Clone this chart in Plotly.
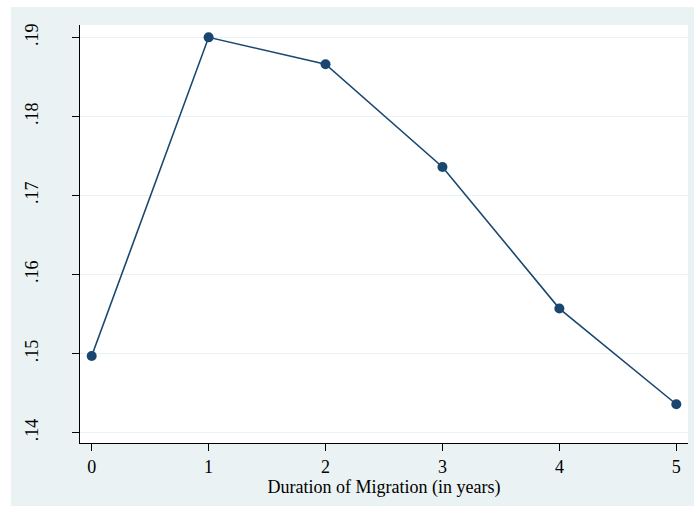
import plotly.graph_objects as go

years = [0, 1, 2, 3, 4, 5]
share = [0.1497, 0.1900, 0.1866, 0.1736, 0.1557, 0.1436]
ytick_vals = [0.14, 0.15, 0.16, 0.17, 0.18, 0.19]
ytick_text = [".14", ".15", ".16", ".17", ".18", ".19"]
xtick_vals = [0, 1, 2, 3, 4, 5]
xlabel = "Duration of Migration (in years)"

BG = "#EAF2F3"
NAVY = "#1a476f"
FONT = "Liberation Serif, Times New Roman, serif"

fig = go.Figure(go.Scatter(
    x=years, y=share, mode="lines+markers",
    line=dict(color=NAVY, width=1.6),
    marker=dict(color=NAVY, size=10),
    showlegend=False,
))

fig.update_layout(
    width=694, height=506,
    margin=dict(l=80, r=6, t=25, b=63, pad=0, autoexpand=False),
    paper_bgcolor=BG, plot_bgcolor="white",
    font=dict(family=FONT, color="black", size=16),
    xaxis=dict(
        range=[-0.1, 5.1], tickvals=xtick_vals, ticks="outside", ticklen=7,
        tickcolor="black", tickwidth=1, showline=True, linecolor="black", linewidth=1,
        showgrid=False, zeroline=False, tickfont=dict(size=18), automargin=False,
        title=dict(text=xlabel, font=dict(size=18), standoff=1),
    ),
    yaxis=dict(
        range=[0.1387, 0.19156], tickvals=ytick_vals, ticktext=ytick_text,
        ticks="outside", ticklen=7, tickcolor="black", tickwidth=1,
        showline=True, linecolor="black", linewidth=1, automargin=False,
        showgrid=True, gridcolor=BG, gridwidth=1, zeroline=False,
        tickangle=-90, tickfont=dict(size=18), ticklabelstandoff=27,
    ),
    shapes=[
        dict(type="rect", xref="paper", yref="paper", x0=-80/608, x1=614/608,
             y0=1 + 18/418, y1=1 + 25/418, fillcolor="white", line=dict(width=0), layer="above"),
        dict(type="rect", xref="paper", yref="paper", x0=-80/608, x1=-69/608,
             y0=-63/418, y1=1 + 25/418, fillcolor="white", line=dict(width=0), layer="above"),
    ],
)

fig.write_html("out.html", config={"displayModeBar": False},
               post_script="document.body.style.margin='0';document.body.style.padding='0';")
